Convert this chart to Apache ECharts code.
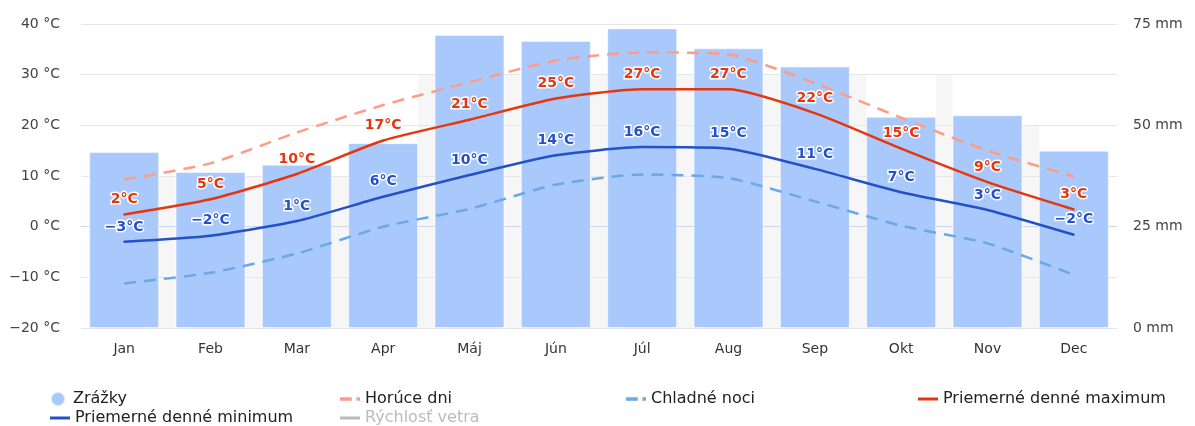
<!DOCTYPE html>
<html style="height: 100%">

<head>
  <meta charset="utf-8">
  <title>Klíma</title>
</head>

<body style="height: 100%; margin: 0">
  <div id="container" style="width: 1195px; height: 426px"></div>
  <script type="text/javascript" src="https://cdn.jsdelivr.net/npm/echarts@6/dist/echarts.min.js"></script>
  <script type="text/javascript">
    var months = ['Jan', 'Feb', 'Mar', 'Apr', 'Máj', 'Jún', 'Júl', 'Aug', 'Sep', 'Okt', 'Nov', 'Dec'];
    // zrážky v mm (pravá os)
    var rain = [43.4, 38.5, 40.3, 45.6, 72.3, 70.8, 73.9, 69.0, 64.5, 52.1, 52.5, 43.7];
    var hotDays = [9.3, 12.5, 18.6, 24.0, 28.5, 32.8, 34.4, 34.0, 28.3, 21.5, 15.0, 9.9];
    var coldNights = [-11.2, -9.1, -5.3, 0.0, 3.5, 8.3, 10.3, 9.6, 5.0, 0.2, -3.3, -9.5];
    var maxTemp = [2.4, 5.4, 10.4, 17.0, 21.1, 25.3, 27.1, 27.1, 22.4, 15.4, 8.8, 3.4];
    var minTemp = [-3.0, -1.8, 1.1, 5.9, 10.2, 14.1, 15.7, 15.4, 11.4, 6.8, 3.3, -1.6];
    var wind = [];
    // horná hrana sivého pásu medzi susednými stĺpcami (°C)
    var shadeTop = [10, 10, 10, 30, 30, 30, 30, 30, 30, 30, 20];

    var font = 'DejaVu Sans';
    var barShare = 0.81;
    var dom = document.getElementById('container');
    var myChart = echarts.init(dom);

    function minus(s) {
      return String(s).replace('-', '\u2212');
    }

    function tempLabel(color) {
      return {
        show: true,
        position: 'top',
        distance: 7,
        color: color,
        fontFamily: font,
        fontSize: 14,
        fontWeight: 'bold',
        textBorderColor: '#fff',
        textBorderWidth: 3,
        formatter: function (p) {
          return minus(Math.round(p.value)) + '°C';
        }
      };
    }

    // sivé pásy len v medzerách medzi stĺpcami
    var half = (1 - barShare) / 2;
    var shading = shadeTop.map(function (v, i) {
      return [{ xAxis: i + 1 - half, yAxis: -20 }, { xAxis: i + 1 + half, yAxis: v }];
    });

    var lineIcon = 'path://M0,0H20V3H0Z';
    var dashIcon = 'path://M0,0H10V3H0Z M14,0H17V3H14Z';

    function legendAt(name, icon, left, top) {
      return {
        data: [{ name: name, icon: icon }],
        left: left,
        top: top,
        itemWidth: 20,
        itemHeight: 14,
        inactiveColor: '#bbb',
        selected: { 'Rýchlosť vetra': false },
        textStyle: { fontFamily: font, fontSize: 16, color: '#222' }
      };
    }

    var option = {
      animation: false,
      grid: { left: 81, right: 78, top: 24, bottom: 98 },
      legend: [
        legendAt('Zrážky', 'circle', 45, 386),
        legendAt('Horúce dni', dashIcon, 335, 386),
        legendAt('Chladné noci', dashIcon, 621, 386),
        legendAt('Priemerné denné maximum', lineIcon, 913, 386),
        legendAt('Priemerné denné minimum', lineIcon, 45, 405),
        legendAt('Rýchlosť vetra', lineIcon, 335, 405)
      ],
      xAxis: [{
        type: 'category',
        data: months,
        z: 1,
        axisLine: { lineStyle: { color: '#ccd6eb' } },
        axisTick: { show: false },
        axisLabel: { color: '#333', fontFamily: font, fontSize: 14, margin: 14 }
      }, {
        type: 'value',
        min: 0,
        max: 12,
        show: false
      }],
      yAxis: [{
        type: 'value',
        min: -20,
        max: 40,
        interval: 10,
        z: 1,
        axisLine: { show: false },
        axisTick: { show: false },
        axisLabel: {
          color: '#444', fontFamily: font, fontSize: 14, margin: 21,
          formatter: function (v) { return minus(v) + ' °C'; }
        },
        splitLine: { lineStyle: { color: '#e6e6e6' } }
      }, {
        type: 'value',
        min: 0,
        max: 75,
        interval: 25,
        position: 'right',
        axisLine: { show: false },
        axisTick: { show: false },
        axisLabel: {
          color: '#444', fontFamily: font, fontSize: 14, margin: 16,
          formatter: '{value} mm'
        },
        splitLine: { show: false }
      }],
      series: [{
        type: 'line',
        xAxisIndex: 1,
        yAxisIndex: 0,
        silent: true,
        data: [],
        markArea: {
          silent: true,
          z: 0,
          itemStyle: { color: '#f6f6f6' },
          data: shading
        }
      }, {
        name: 'Zrážky',
        type: 'bar',
        yAxisIndex: 1,
        barWidth: (barShare * 100) + '%',
        z: 2,
        itemStyle: { color: '#a9c8fb', borderColor: 'rgba(255,255,255,0.5)', borderWidth: 1 },
        data: rain
      }, {
        name: 'Horúce dni',
        type: 'line',
        smooth: 0.2,
        symbol: 'none',
        z: 3,
        lineStyle: { color: '#ff9c88', width: 2.5, type: [12, 8] },
        itemStyle: { color: '#ff9c88' },
        data: hotDays
      }, {
        name: 'Chladné noci',
        type: 'line',
        smooth: 0.2,
        symbol: 'none',
        z: 3,
        lineStyle: { color: '#6aa8e8', width: 2.5, type: [12, 8] },
        itemStyle: { color: '#6aa8e8' },
        data: coldNights
      }, {
        name: 'Priemerné denné maximum',
        type: 'line',
        smooth: 0.2,
        symbol: 'circle',
        symbolSize: 2,
        z: 4,
        lineStyle: { color: '#e5360e', width: 2.5 },
        itemStyle: { color: '#e5360e' },
        label: tempLabel('#e5360e'),
        data: maxTemp
      }, {
        name: 'Priemerné denné minimum',
        type: 'line',
        smooth: 0.2,
        symbol: 'circle',
        symbolSize: 2,
        z: 4,
        lineStyle: { color: '#2450c8', width: 2.5 },
        itemStyle: { color: '#2450c8' },
        label: tempLabel('#2450c8'),
        data: minTemp
      }, {
        name: 'Rýchlosť vetra',
        type: 'line',
        symbol: 'none',
        lineStyle: { color: '#888', width: 2 },
        itemStyle: { color: '#888' },
        data: wind
      }]
    };

    if (option && typeof option === "object") {
      myChart.setOption(option, true);
    }
  </script>
</body>

</html>
